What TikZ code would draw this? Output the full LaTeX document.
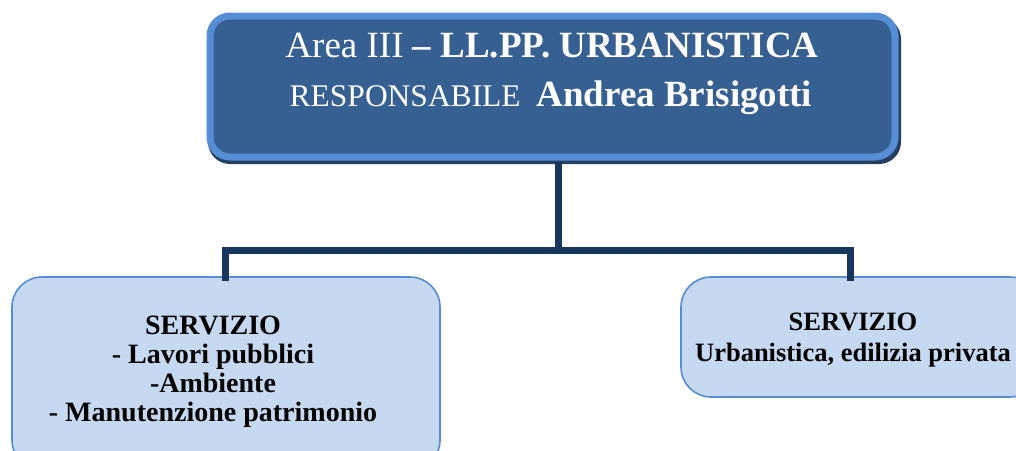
\documentclass[tikz,border=0pt]{standalone}
\usepackage{fontspec}
\setmainfont{Liberation Serif}
\definecolor{topfill}{HTML}{376092}
\definecolor{topborder}{HTML}{558ED5}
\definecolor{topshadow}{HTML}{243F60}
\definecolor{linecol}{HTML}{17375E}
\definecolor{subfill}{HTML}{C6D9F1}
\definecolor{subborder}{HTML}{558ED5}
\begin{document}
\begin{tikzpicture}[x=1pt,y=-1pt,
  topbox/.style={draw=topborder,fill=topfill,line width=7pt,rounded corners=20pt},
  shadowbox/.style={fill=topshadow,rounded corners=22pt},
  subbox/.style={draw=subborder,fill=subfill,line width=1.6pt,rounded corners=30pt},
  conn/.style={draw=linecol,line width=7pt}]
\useasboundingbox (0,0) rectangle (1016,450);
\clip (0,0) rectangle (1016,450);
% top box
\fill[shadowbox] (208,17) rectangle (901,164);
\draw[topbox] (210,16) rectangle (895,157);
\node[text=white,font=\fontsize{37}{42}\selectfont] (top) at (552,46)
  {Area III \textbf{– LL.PP. URBANISTICA}};
\node[text=white,anchor=base] (resp) at (551,106)
  {\fontsize{31.5}{34}\selectfont RESPONSABILE\ \ \fontsize{37}{42}\selectfont\textbf{Andrea Brisigotti}};
\coordinate (topb) at (558,162);
% sub boxes
\draw[subbox] (12,277) rectangle (440,470);
\draw[subbox] (681,277) rectangle (1040,397);
\coordinate (lb) at (225,277);
\coordinate (rb) at (850,277);
\coordinate (mid) at (558,250);
\draw[conn] (topb) -- (mid);
\draw[conn,line cap=rect] (lb) -- (lb |- mid) -- (mid -| rb) -- (rb);
\node[align=center,font=\bfseries\fontsize{28}{29}\selectfont] (left) at (213,372)
  {SERVIZIO\\- Lavori pubblici\\-Ambiente\\- Manutenzione patrimonio};
\node[align=center,font=\bfseries\fontsize{26.5}{31}\selectfont] (right) at (853,340)
  {SERVIZIO\\Urbanistica, edilizia privata};
\end{tikzpicture}
\end{document}
